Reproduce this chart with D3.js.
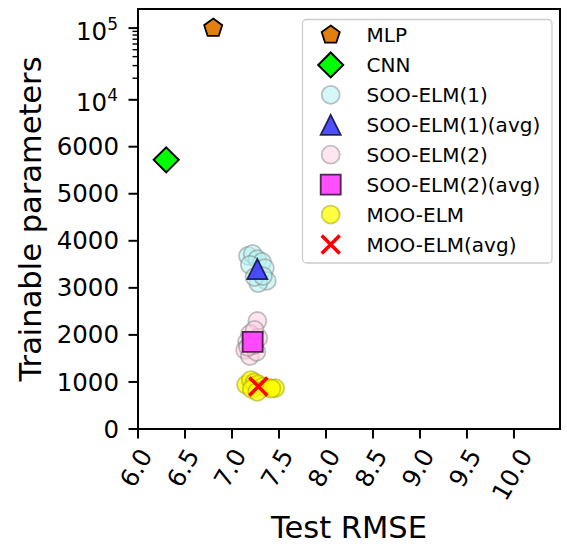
<!DOCTYPE html>
<html>
<head>
<meta charset="utf-8">
<script src="https://cdn.jsdelivr.net/npm/d3@7"></script>
<style>
  html, body { margin: 0; padding: 0; background: #fff; }
  svg { display: block; font-family: "DejaVu Sans", sans-serif; }
</style>
</head>
<body>
<svg id="chart" width="567" height="544"></svg>
<script>
// ---- data ----
const mlpX = [6.80];
const mlpY = [100000];
const cnnX = [6.30];
const cnnY = [5720];

const soo1X = [7.17, 7.22, 7.27, 7.32, 7.35, 7.19, 7.37, 7.28, 7.24, 7.33];
const soo1Y = [3680, 3720, 3610, 3550, 3420, 3490, 3150, 3100, 3230, 3250];
const soo1AvgX = [7.27];
const soo1AvgY = [3400];

const soo2X = [7.27, 7.19, 7.16, 7.14, 7.19, 7.26, 7.28, 7.23, 7.17, 7.24];
const soo2Y = [2295, 2020, 1850, 1680, 1550, 1640, 1935, 1785, 1745, 2105];
const soo2AvgX = [7.22];
const soo2AvgY = [1850];

const mooX = [7.15, 7.20, 7.24, 7.28, 7.33, 7.38, 7.46, 7.21, 7.27, 7.42];
const mooY = [940, 1040, 990, 950, 900, 880, 870, 850, 790, 860];
const mooAvgX = [7.28];
const mooAvgY = [905];

const xTicks = [6.0, 6.5, 7.0, 7.5, 8.0, 8.5, 9.0, 9.5, 10.0];
const yLinTicks = [0, 1000, 2000, 3000, 4000, 5000, 6000];
const yPowTicks = [4, 5];
const yMinorTicks = [20000, 30000, 40000, 50000, 60000, 70000, 80000, 90000];

const seriesNames = ["MLP", "CNN", "SOO-ELM(1)", "SOO-ELM(1)(avg)", "SOO-ELM(2)", "SOO-ELM(2)(avg)", "MOO-ELM", "MOO-ELM(avg)"];

// ---- layout ----
const L = 138, R = 560, T = 9, B = 429;
const svg = d3.select("#chart");

const x = d3.scaleLinear().domain([6.0, 10.49]).range([L, R]);

// y axis: linear up to 6000, a linear bridge to 10^4, logarithmic above
const yLin = d3.scaleLinear().domain([0, 6000]).range([B, 146.7]);
const yMid = d3.scaleLinear().domain([6000, 10000]).range([146.7, 99.8]);
const yLog = d3.scaleLog().domain([1e4, 1e5]).range([99.8, 28.1]);
const y = v => v <= 6000 ? yLin(v) : (v <= 1e4 ? yMid(v) : yLog(v));

// ---- marker shapes (size = radius squared) ----
const pentagon = { draw(ctx, size) {
  const r = Math.sqrt(size);
  for (let k = 0; k < 5; k++) {
    const a = -Math.PI / 2 + k * 2 * Math.PI / 5;
    k ? ctx.lineTo(r * Math.cos(a), r * Math.sin(a)) : ctx.moveTo(r * Math.cos(a), r * Math.sin(a));
  }
  ctx.closePath();
}};
const diamond = { draw(ctx, size) {
  const r = Math.sqrt(size);
  ctx.moveTo(0, -r); ctx.lineTo(r, 0); ctx.lineTo(0, r); ctx.lineTo(-r, 0); ctx.closePath();
}};
const triangle = { draw(ctx, size) {
  const r = Math.sqrt(size);
  ctx.moveTo(0, -r); ctx.lineTo(r, r); ctx.lineTo(-r, r); ctx.closePath();
}};
const square = { draw(ctx, size) {
  const r = Math.sqrt(size);
  ctx.rect(-r, -r, 2 * r, 2 * r);
}};
const cross = { draw(ctx, size) {
  const r = Math.sqrt(size);
  ctx.moveTo(-r, -r); ctx.lineTo(r, r); ctx.moveTo(-r, r); ctx.lineTo(r, -r);
}};
const circle = { draw(ctx, size) {
  const r = Math.sqrt(size);
  ctx.moveTo(r, 0); ctx.arc(0, 0, r, 0, 2 * Math.PI);
}};

const styles = [
  { type: pentagon, r: 9.5, fill: "#e27f0e", stroke: "#000", sw: 1.8, fo: 1, so: 1 },
  { type: diamond, r: 12.5, fill: "#00ff00", stroke: "#000", sw: 2, fo: 1, so: 1 },
  { type: circle, r: 9, fill: "#b8f2f2", stroke: "#7a7a7a", sw: 1.8, fo: 0.6, so: 0.45 },
  { type: triangle, r: 10, fill: "#3c3cff", stroke: "#15154a", sw: 1.8, fo: 0.9, so: 0.9 },
  { type: circle, r: 9, fill: "#ffd0e4", stroke: "#7a7a7a", sw: 1.8, fo: 0.55, so: 0.45 },
  { type: square, r: 10, fill: "#ff3cff", stroke: "#3a1a3a", sw: 1.8, fo: 0.9, so: 0.9 },
  { type: circle, r: 9, fill: "#ffff00", stroke: "#a0a000", sw: 1.8, fo: 0.75, so: 0.5 },
  { type: cross, r: 9, fill: "none", stroke: "#ff0000", sw: 3.5, fo: 1, so: 1 }
];
const seriesData = [
  [mlpX, mlpY], [cnnX, cnnY], [soo1X, soo1Y], [soo1AvgX, soo1AvgY],
  [soo2X, soo2Y], [soo2AvgX, soo2AvgY], [mooX, mooY], [mooAvgX, mooAvgY]
];

function drawMarker(sel, st) {
  sel.attr("d", d3.symbol().type(st.type).size(st.r * st.r)())
    .attr("fill", st.fill).attr("fill-opacity", st.fo)
    .attr("stroke", st.stroke).attr("stroke-opacity", st.so)
    .attr("stroke-width", st.sw).attr("stroke-linejoin", "miter");
}

// ---- points ----
const plot = svg.append("g");
seriesData.forEach(([xs, ys], i) => {
  const pts = xs.map((v, j) => [v, ys[j]]);
  plot.selectAll(null).data(pts).join("path")
    .attr("transform", d => `translate(${x(d[0])},${y(d[1])})`)
    .call(drawMarker, styles[i]);
});

// ---- frame ----
svg.append("rect").attr("x", L).attr("y", T).attr("width", R - L).attr("height", B - T)
  .attr("fill", "none").attr("stroke", "#000").attr("stroke-width", 2);

// ---- x axis ----
const xAxis = svg.append("g");
xTicks.forEach(t => {
  const px = x(t);
  xAxis.append("line").attr("x1", px).attr("x2", px).attr("y1", B).attr("y2", B + 9.5)
    .attr("stroke", "#000").attr("stroke-width", 2);
  const txt = xAxis.append("text").text(t.toFixed(1))
    .attr("font-size", 24.5).attr("text-anchor", "middle").attr("dy", "0.35em");
  const w = txt.node().getComputedTextLength();
  const cx = px - 2, cy = B + 22 + w * 0.433;
  txt.attr("x", cx).attr("y", cy).attr("transform", `rotate(-60,${cx},${cy})`);
});
svg.append("text").text("Test RMSE").attr("x", (L + R) / 2).attr("y", 538)
  .attr("text-anchor", "middle").attr("font-size", 30.5);

// ---- y axis ----
const yAxis = svg.append("g");
yLinTicks.forEach(t => {
  const py = y(t);
  yAxis.append("line").attr("x1", L - 9.5).attr("x2", L).attr("y1", py).attr("y2", py)
    .attr("stroke", "#000").attr("stroke-width", 2);
  yAxis.append("text").text(t).attr("x", 119).attr("y", py).attr("dy", "0.35em")
    .attr("text-anchor", "end").attr("font-size", 24.5);
});
yPowTicks.forEach(p => {
  const py = y(Math.pow(10, p));
  yAxis.append("line").attr("x1", L - 9.5).attr("x2", L).attr("y1", py).attr("y2", py)
    .attr("stroke", "#000").attr("stroke-width", 2);
  const t = yAxis.append("text").attr("x", 118).attr("y", py + 11.5)
    .attr("text-anchor", "end").attr("font-size", 24.5);
  t.append("tspan").text("10");
  t.append("tspan").text(p).attr("font-size", 17).attr("dy", -10);
});
yMinorTicks.forEach(v => {
  const py = y(v);
  yAxis.append("line").attr("x1", L - 5.5).attr("x2", L).attr("y1", py).attr("y2", py)
    .attr("stroke", "#000").attr("stroke-width", 1.4);
});
svg.append("text").text("Trainable parameters")
  .attr("transform", `translate(41,${(T + B) / 2}) rotate(-90)`)
  .attr("text-anchor", "middle").attr("font-size", 30.5);

// ---- legend ----
const lg = svg.append("g");
lg.append("rect").attr("x", 302.5).attr("y", 19.5).attr("width", 249.5).attr("height", 243.5)
  .attr("rx", 4).attr("fill", "#fff").attr("fill-opacity", 0.8)
  .attr("stroke", "#cccccc").attr("stroke-width", 1.3);
seriesNames.forEach((name, i) => {
  const ry = 35 + i * 29.93;
  lg.append("path").attr("transform", `translate(330.7,${ry})`).call(drawMarker, styles[i]);
  lg.append("text").text(name).attr("x", 366.5).attr("y", ry).attr("dy", "0.36em")
    .attr("font-size", 20);
});
</script>
</body>
</html>
